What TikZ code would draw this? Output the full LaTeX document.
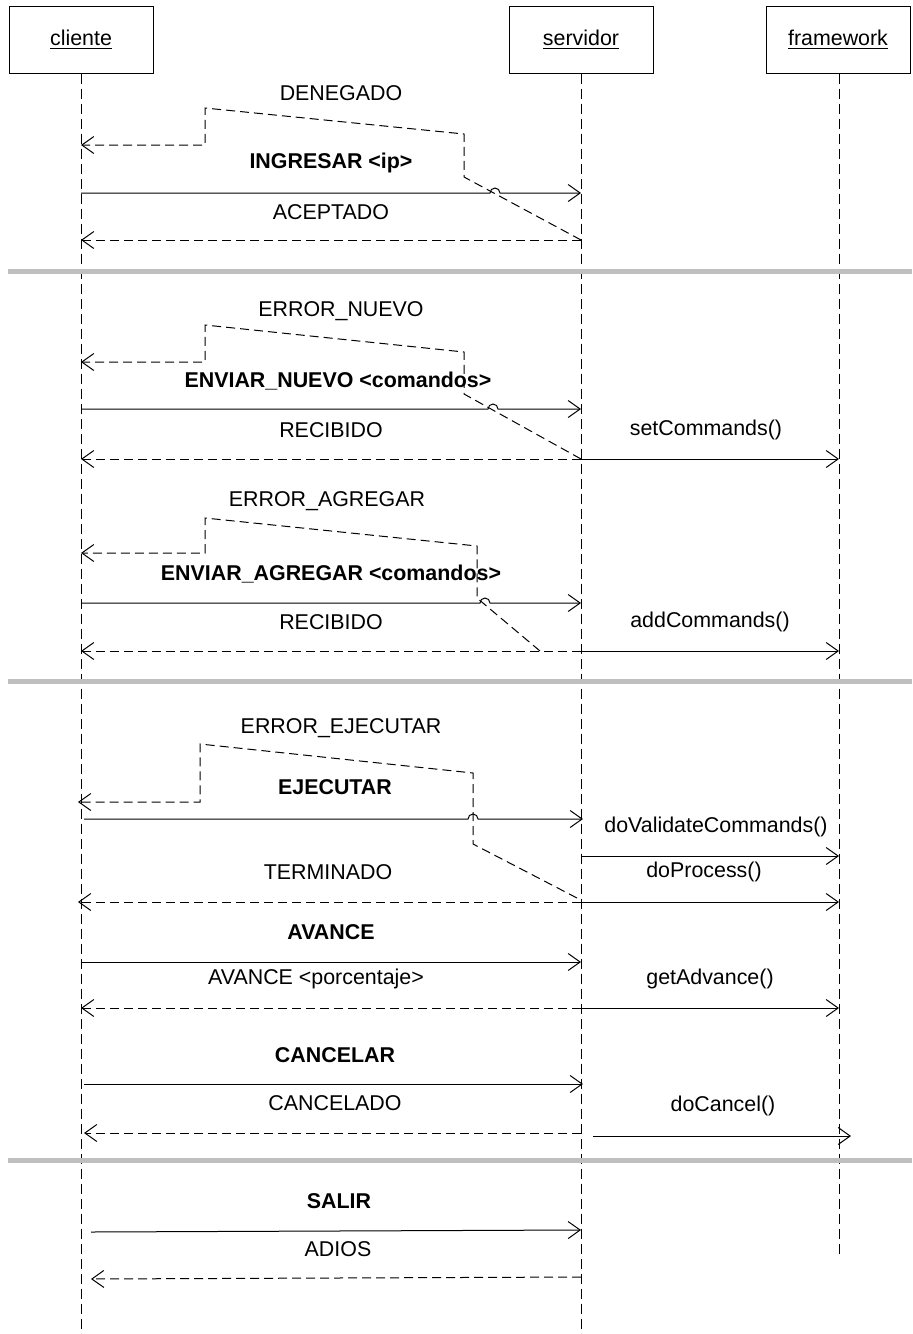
\documentclass[tikz,border=0pt]{standalone}
\usepackage{fontspec}
\setmainfont{Liberation Sans}
\usetikzlibrary{arrows.meta}
\begin{document}
\begin{tikzpicture}[x=0.5pt,y=-0.5pt,
  font=\fontsize{10.7pt}{12pt}\selectfont,
  every node/.style={inner sep=0pt},
  actor/.style={draw,line width=0.5pt,minimum width=72pt,minimum height=33.5pt},
  lifeline/.style={line width=0.5pt,dash pattern=on 5pt off 2.5pt},
  call/.style={line width=0.5pt,-{Straight Barb[length=6pt,width=8.5pt]}},
  reply/.style={call,dash pattern=on 4.5pt off 2.5pt},
  sep/.style={line width=2.5pt,draw=black!25},
  lbl/.style={anchor=center},
  blbl/.style={anchor=center,font=\fontsize{10.7pt}{12pt}\selectfont\bfseries}]
\useasboundingbox (0,0) rectangle (912,1334);

% participants
\node[actor] (cliente) at (81,39.5) {\underline{cliente}};
\node[actor] (servidor) at (581,39.5) {\underline{servidor}};
\node[actor] (framework) at (838,39.5) {\underline{framework}};

% lifelines
\coordinate (cEnd) at (81,1334);
\coordinate (sEnd) at (581,1334);
\coordinate (fEnd) at (839,1255);
\draw[lifeline] (cliente.south) -- (cEnd);
\draw[lifeline] (servidor.south) -- (sEnd);
\draw[lifeline] (framework.south -| fEnd) -- (fEnd);

% points on the lifelines at every message level
\foreach \y in {145,193,240,362,409,459,553,603,651,802,819,856,902,962,1008,1084,1133,1136,1230,1279}{
  \coordinate (C\y) at (81,\y);
  \coordinate (S\y) at (581,\y);
  \coordinate (F\y) at (839,\y);
}

% separators between phases
\coordinate (sepA1) at (8,271);  \coordinate (sepA2) at (912,271);
\coordinate (sepB1) at (8,681);  \coordinate (sepB2) at (912,681);
\coordinate (sepC1) at (8,1160); \coordinate (sepC2) at (912,1160);
\draw[sep] (sepA1) -- (sepA2);
\draw[sep] (sepB1) -- (sepB2);
\draw[sep] (sepC1) -- (sepC2);

% --- login ---
\node[lbl]  (tDen) at (341,93)  {DENEGADO};
\node[blbl] (tIng) at (331,163) {INGRESAR <ip>};
\node[lbl]  (tAce) at (331,212) {ACEPTADO};
\draw[reply] (S240) -- (464,177) -- (464,134) -- (205,108) -- (205,145) -- (C145);
\draw[call] (C193) -- (490,193) arc[start angle=180,end angle=0,radius=2.5pt] -- (S193);
\draw[reply] (S240) -- (C240);

% --- new command list ---
\node[lbl]  (tErrN) at (341,311) {ERROR\_NUEVO};
\node[blbl] (tEnvN) at (338,381) {ENVIAR\_NUEVO <comandos>};
\node[lbl]  (tRecN) at (331,430) {RECIBIDO};
\node[lbl]  (tSet)  at (706,430) {setCommands()};
\draw[reply] (S459) -- (464,394) -- (464,352) -- (205,325) -- (205,362) -- (C362);
\draw[call] (C409) -- (488,409) arc[start angle=180,end angle=0,radius=2.5pt] -- (S409);
\draw[reply] (S459) -- (C459);
\draw[call] (S459) -- (F459);

% --- append commands ---
\node[lbl]  (tErrA) at (327,501) {ERROR\_AGREGAR};
\node[blbl] (tEnvA) at (331,574) {ENVIAR\_AGREGAR <comandos>};
\node[lbl]  (tRecA) at (331,622) {RECIBIDO};
\node[lbl]  (tAdd)  at (710,622) {addCommands()};
\draw[reply] (540,651) -- (477,598) -- (477,546) -- (205,518) -- (205,553) -- (C553);
\draw[call] (C603) -- (480,603) arc[start angle=180,end angle=0,radius=2.5pt] -- (S603);
\draw[reply] (S651) -- (C651);
\draw[call] (S651) -- (F651);

% --- execution ---
\node[lbl]  (tErrE) at (341,728) {ERROR\_EJECUTAR};
\node[blbl] (tEje)  at (335,787) {EJECUTAR};
\node[lbl]  (tVal)  at (716,827) {doValidateCommands()};
\node[lbl]  (tTer)  at (328,872) {TERMINADO};
\node[lbl]  (tPro)  at (704,872) {doProcess()};
\draw[reply] (577,898) -- (473,844) -- (473,773) -- (200,744) -- (200,802) -- ([xshift=-1.5pt]C802);
\draw[call] ([xshift=1.5pt]C819) -- (468,819) arc[start angle=180,end angle=0,radius=2.5pt] -- ([xshift=1pt]S819);
\draw[call] (S856) -- (F856);
\draw[reply] (S902) -- ([xshift=-1.5pt]C902);
\draw[call] (S902) -- (F902);

% --- progress ---
\node[blbl] (tAva)  at (331,932) {AVANCE};
\node[lbl]  (tPor)  at (316,979) {AVANCE <porcentaje>};
\node[lbl]  (tGet)  at (710,979) {getAdvance()};
\draw[call] (C962) -- (S962);
\draw[reply] (S1008) -- (C1008);
\draw[call] (S1008) -- (F1008);

% --- cancel ---
\node[blbl] (tCan)  at (335,1055) {CANCELAR};
\node[lbl]  (tCdo)  at (335,1103) {CANCELADO};
\node[lbl]  (tDoC)  at (723,1106) {doCancel()};
\draw[call] ([xshift=1.5pt]C1084) -- ([xshift=1pt]S1084);
\draw[reply] (S1133) -- ([xshift=1.5pt]C1133);
\draw[call] ([xshift=6pt]S1136) -- ([xshift=6pt]F1136);

% --- quit ---
\node[blbl] (tSal)  at (339,1201) {SALIR};
\node[lbl]  (tAdi)  at (338,1249) {ADIOS};
\draw[call] ([xshift=5pt,yshift=-1pt]C1230) -- (S1230);
\draw[reply] ([yshift=1pt]S1279) -- ([xshift=5pt]C1279);
\end{tikzpicture}
\end{document}
